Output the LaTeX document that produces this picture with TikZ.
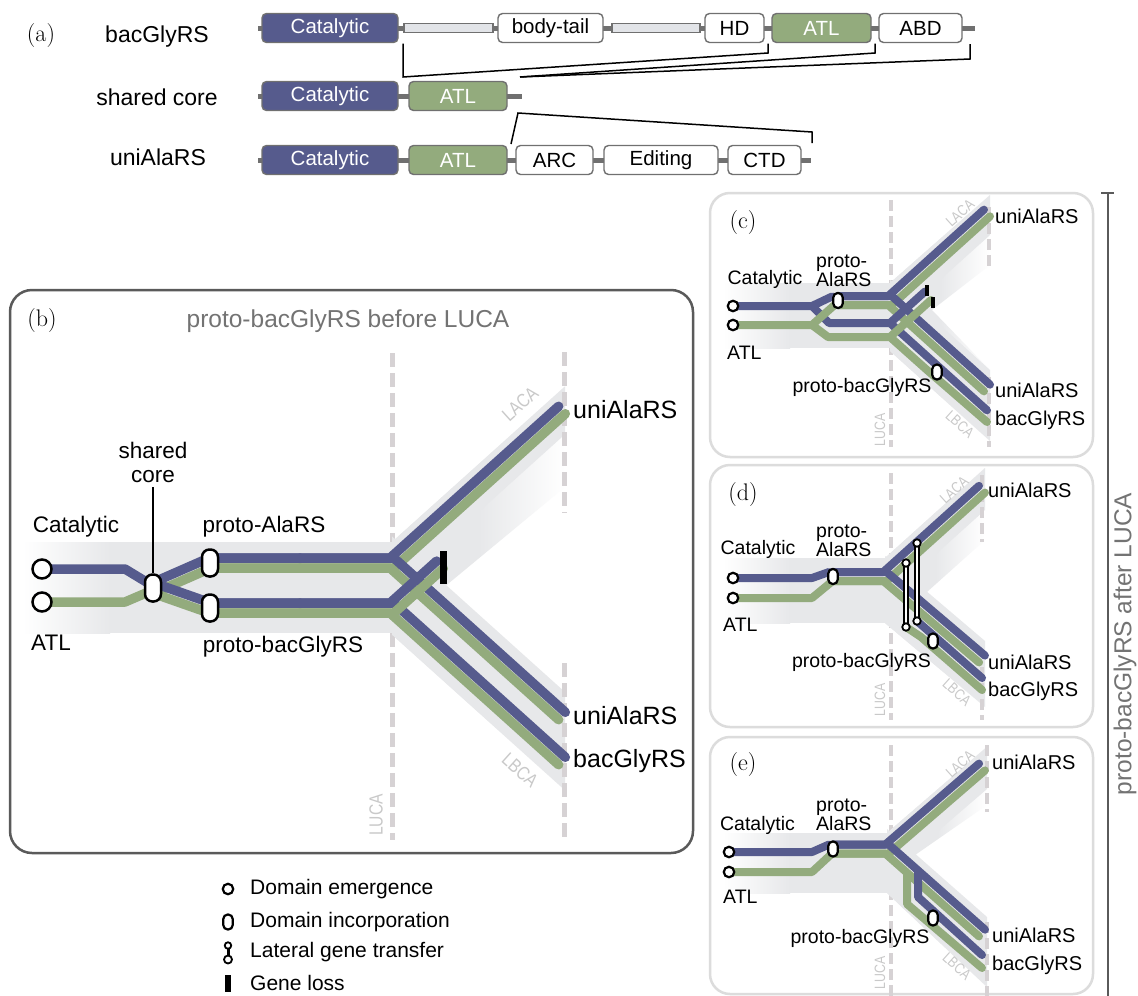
\documentclass[tikz,border=0pt]{standalone}
\usepackage{fontspec}
\setsansfont{Liberation Sans}
\newfontfamily\condsans{Liberation Sans}[FakeStretch=0.82]
\usetikzlibrary{calc}

\definecolor{purp}{HTML}{565B8D}
\definecolor{grn}{HTML}{93AB7D}
\definecolor{band}{HTML}{E7E8EA}
\definecolor{dashgray}{HTML}{D6D2D4}
\definecolor{faint}{HTML}{C9C9C9}
\definecolor{frameB}{HTML}{5A5A5A}
\definecolor{frameS}{HTML}{DCDCDC}
\definecolor{bbone}{HTML}{707070}
\definecolor{linkfill}{HTML}{E2E4E8}
\definecolor{titlegray}{HTML}{737373}

% fan between diverging branches: band colour fading to white on the right
\pgfdeclarehorizontalshading{fanfade}{100bp}{color(0bp)=(band); color(25bp)=(band); color(50bp)=(band); color(75bp)=(white); color(100bp)=(white)}

\newcommand\fsz[2]{\fontsize{#1pt}{#2pt}\selectfont}

% one coloured line running parallel to a two-segment centre line
% #1 style, (#2,#3) -> (#4,#5) -> (#6,#7), #8 perpendicular offset (positive = upper side)
\newcommand\trackoff[8]{%
  \pgfmathsetmacro\olAx{#4-#2}\pgfmathsetmacro\olAy{#5-#3}%
  \pgfmathsetmacro\olAl{veclen(\olAx,\olAy)}%
  \pgfmathsetmacro\olBx{#6-#4}\pgfmathsetmacro\olBy{#7-#5}%
  \pgfmathsetmacro\olBl{veclen(\olBx,\olBy)}%
  \pgfmathsetmacro\olnAx{\olAy/\olAl}\pgfmathsetmacro\olnAy{-\olAx/\olAl}%
  \pgfmathsetmacro\olnBx{\olBy/\olBl}\pgfmathsetmacro\olnBy{-\olBx/\olBl}%
  \pgfmathsetmacro\olden{1+\olnAx*\olnBx+\olnAy*\olnBy}%
  \pgfmathsetmacro\olmx{(\olnAx+\olnBx)/\olden}\pgfmathsetmacro\olmy{(\olnAy+\olnBy)/\olden}%
  \draw[#1] ({#2+(#8)*\olnAx},{#3+(#8)*\olnAy}) -- ({#4+(#8)*\olmx},{#5+(#8)*\olmy}) -- ({#6+(#8)*\olnBx},{#7+(#8)*\olnBy});%
}
% a Catalytic (purple) + ATL (green) gene drawn as a pair along a centre line
\newcommand\trackpair[8]{%
  \trackoff{grn#1}{#3}{#4}{#5}{#6}{#7}{#8}{-#2}%
  \trackoff{pur#1}{#3}{#4}{#5}{#6}{#7}{#8}{#2}%
}

\begin{document}
\begin{tikzpicture}[x=1pt,y=-1pt,
  every node/.style={font=\sffamily,inner sep=0pt},
  purB/.style={draw=purp,line width=9.5pt,line cap=round,line join=round},
  grnB/.style={draw=grn,line width=9.5pt,line cap=round,line join=round},
  purS/.style={draw=purp,line width=8pt,line cap=round,line join=round},
  grnS/.style={draw=grn,line width=8pt,line cap=round,line join=round},
  backbone/.style={draw=bbone,line width=5pt},
  dom/.style={rectangle,rounded corners=4.5pt,draw=bbone,line width=1.4pt,fill=white,
    minimum height=29pt,font=\sffamily\fsz{20.5}{24}},
  catdom/.style={dom,fill=purp,text=white},
  atldom/.style={dom,fill=grn,text=white},
  linker/.style={rectangle,draw=bbone,line width=1.2pt,fill=linkfill,minimum height=9pt},
  bracketline/.style={draw=black,line width=1.5pt},
  rowlab/.style={font=\sffamily\fsz{23}{26}},
  panellab/.style={font=\rmfamily\fsz{24}{26}},
  titlelab/.style={font=\sffamily\fsz{24.5}{28},text=titlegray},
  lblB/.style={font=\sffamily\fsz{22.5}{24}},
  endB/.style={font=\sffamily\fsz{25}{28},anchor=west},
  lblS/.style={font=\sffamily\fsz{19.5}{18}},
  endS/.style={font=\sffamily\fsz{20}{22},anchor=west},
  eraB/.style={font=\condsans\fsz{19}{20},text=faint},
  eraS/.style={font=\condsans\fsz{15}{16},text=faint},
  dashB/.style={draw=dashgray,line width=5pt,dash pattern=on 14pt off 6pt},
  dashS/.style={draw=dashgray,line width=4pt,dash pattern=on 11pt off 5pt},
  incB/.style={rectangle,rounded corners=7.5pt,draw=black,line width=2.5pt,fill=white,minimum width=16pt,minimum height=27pt},
  incS/.style={rectangle,rounded corners=4.5pt,draw=black,line width=2.2pt,fill=white,minimum width=9.5pt,minimum height=15pt},
  emB/.style={circle,draw=black,line width=2.5pt,fill=white,minimum size=19pt},
  emS/.style={circle,draw=black,line width=2.2pt,fill=white,minimum size=10.5pt},
  lossB/.style={rectangle,fill=black,minimum width=7pt,minimum height=33pt},
  lossS/.style={rectangle,fill=black,minimum width=4.5pt,minimum height=11pt},
  lgtline/.style={draw=black,line width=2.3pt,double=white,double distance=1.1pt},
  lgtend/.style={circle,draw=black,line width=1.8pt,fill=white,minimum size=7.5pt},
  frameBig/.style={draw=frameB,line width=2.5pt,rounded corners=22pt},
  frameSmall/.style={draw=frameS,line width=2.5pt,rounded corners=20pt},
  legtext/.style={font=\sffamily\fsz{21}{24},anchor=west}
]
\useasboundingbox (0,0) rectangle (1138,996);
\fill[white] (0,0) rectangle (1138,996);

%% ---------------- (a) domain architectures ----------------
\node[panellab] (pa) at (41,36) {(a)};
\node[rowlab] (r1) at (157,37) {bacGlyRS};
\node[rowlab] (r2) at (157,97) {shared core};
\node[rowlab] (r3) at (158,157) {uniAlaRS};

\draw[backbone] (258,28) -- (975,28);
\draw[backbone] (258,96) -- (522,96);
\draw[backbone] (258,160) -- (811,160);

\node[catdom,minimum width=136pt] (gcat) at (330,28) {Catalytic};
\node[linker,minimum width=89pt] (gl1) at (448.5,28) {};
\node[dom,minimum width=105pt] (gbody) at (550.5,28) {body-tail};
\node[linker,minimum width=88pt] (gl2) at (656,28) {};
\node[dom,minimum width=59pt] (ghd) at (734.5,28) {HD};
\node[atldom,minimum width=99pt] (gatl) at (821.5,28) {ATL};
\node[dom,minimum width=83pt] (gabd) at (920.5,28) {ABD};

\node[catdom,minimum width=136pt] (scat) at (330,96) {Catalytic};
\node[atldom,minimum width=98pt] (satl) at (458,96) {ATL};

\node[catdom,minimum width=136pt] (ucat) at (330,160) {Catalytic};
\node[atldom,minimum width=98pt] (uatl) at (458,160) {ATL};
\node[dom,minimum width=77pt] (uarc) at (554.5,160) {ARC};
\node[dom,minimum width=114pt] (uedit) at (661,160) {Editing};
\node[dom,minimum width=73pt] (uctd) at (764.5,160) {CTD};

% brackets relating the shared core to both architectures
\coordinate (k1) at (403,43.5);
\coordinate (k2) at (403,77);
\coordinate (k3) at (768,53);
\coordinate (k4) at (768,43.5);
\coordinate (k5) at (520,77);
\coordinate (k6) at (875,53);
\coordinate (k7) at (875,43.5);
\coordinate (k8) at (970,59);
\coordinate (k9) at (970,44);
\draw[bracketline] (k1) -- (k2) -- (k3) -- (k4);
\draw[bracketline] (k5) -- (k6) -- (k7);
\draw[bracketline] (k5) -- (k8) -- (k9);
\coordinate (m1) at (511,144);
\coordinate (m2) at (518,113);
\coordinate (m3) at (812,132);
\coordinate (m4) at (812,143);
\draw[bracketline] (m1) -- (m2) -- (m3) -- (m4);

%% ---------------- (b) before LUCA ----------------
\draw[frameBig] (10,290) rectangle (693,853);
\node[panellab] (pb) at (42,321) {(b)};
\node[titlelab] (tb) at (348,321) {proto-bacGlyRS before LUCA};

\draw[dashB] (392,353) -- (392,840);
% shadow band
\shade[left color=white,right color=band] (23,542) rectangle (110,633);
\fill[band] (109.5,542) rectangle (392.5,633);
\shade[shading=fanfade] (392,542) -- (565,387) -- (565,487) -- (443,588) -- (565,692) -- (565,790) -- (392,634.6) -- cycle;
\fill[band] (392,542) -- (565,386.3) -- (565,434.3) -- (392,590) -- cycle;
\fill[band] (392,536.4) -- (565,692.1) -- (565,790.3) -- (392,634.6) -- cycle;
\draw[dashB] (564,352) -- (564,513);
\draw[dashB] (564,663) -- (564,840);

\node[eraB,rotate=42] at (520,404) {LACA};
\node[eraB,rotate=-42] at (520,770) {LBCA};
\node[eraB,rotate=90] at (376,815) {LUCA};

% lineages
\draw[purB] (42,569) -- (125,569) -- (153,586);
\draw[grnB] (42,602) -- (125,602) -- (153,590);
\trackpair{B}{5}{153}{588}{210}{563}{300}{563}
\trackpair{B}{5}{153}{588}{210}{608}{300}{608}
\trackpair{B}{5}{210}{563}{392}{563}{562}{410}
\trackpair{B}{5}{210}{608}{392}{608}{562}{761}
\trackpair{B}{5}{300}{563}{392}{563}{562}{716}
\trackpair{B}{5}{300}{608}{392}{608}{440}{564.8}
\node[lossB] (bloss) at (443.5,567) {};

\node[emB] (bcat) at (42,569) {};
\node[emB] (batl) at (42,602) {};
\node[incB] (bsc) at (153,588) {};
\node[incB] (bpa) at (210,563) {};
\node[incB] (bpg) at (210,608) {};

\node[lblB,align=center] (bscl) at (153,462) {shared\\core};
\draw[line width=2pt] (153,487) -- (bsc.north);
\node[lblB] at (76,527) {Catalytic};
\node[lblB,anchor=west] at (31,643) {ATL};
\node[lblB] at (264,527) {proto-AlaRS};
\node[lblB] at (283,647) {proto-bacGlyRS};
\node[endB] at (573,410) {uniAlaRS};
\node[endB] at (573,716) {uniAlaRS};
\node[endB] at (573,761) {bacGlyRS};

%% ---------------- legend ----------------
\node[emS] (lg1) at (228,889) {};
\node[legtext] at (250,889) {Domain emergence};
\node[incS] (lg2) at (228,922) {};
\node[legtext] at (250,922) {Domain incorporation};
\draw[line width=3pt] (228,946) -- (228,959);
\node[lgtend,minimum size=6.5pt] (lg3a) at (228,945.5) {};
\node[lgtend,minimum size=8pt] (lg3b) at (228,959.5) {};
\node[legtext] at (250,952) {Lateral gene transfer};
\node[lossS,minimum width=6pt,minimum height=17pt] (lg4) at (228,983) {};
\node[legtext] at (250,983) {Gene loss};

%% ---------------- right-hand bracket ----------------
\draw[draw=frameB,line width=2pt] (1101,193) -- (1114,193);
\draw[draw=frameB,line width=2pt] (1107.5,193) -- (1107.5,996);
\node[titlelab,rotate=90] at (1125,644) {proto-bacGlyRS after LUCA};

%% ---------------- (c) ----------------
\draw[frameSmall] (710,193) rectangle (1093,457);
\node[panellab] at (743,223) {(c)};
\draw[dashS] (891,200) -- (891,447);
\shade[left color=white,right color=band] (723,283) rectangle (790,348);
\fill[band] (789.5,283) rectangle (890.5,348);
\shade[shading=fanfade] (890,283) -- (990,195) -- (990,265) -- (932,310) -- (990,370) -- (990,441) -- (890,351) -- cycle;
\fill[band] (890,283) -- (990,195) -- (990,235) -- (890,325) -- cycle;
\fill[band] (890,280) -- (990,370) -- (990,441) -- (890,351) -- cycle;
\draw[dashS] (989,207) -- (989,268);
\draw[dashS] (989,377) -- (989,447);
\node[eraS,rotate=42] at (960,213) {LACA};
\node[eraS,rotate=-42] at (960,424) {LBCA};
\node[eraS,rotate=90] at (880,430) {LUCA};

\draw[purS] (812,306) -- (829,323) -- (890,323) -- (987,410.3);
\draw[grnS] (812,325) -- (828,337) -- (890,337) -- (927,370) -- (987,422);
\draw[purS] (733,306) -- (812,306) -- (832,296.5);
\draw[grnS] (733,325) -- (812,325) -- (834,305.5);
\trackpair{S}{4.5}{838}{300.5}{890}{300.5}{987}{213}
\trackpair{S}{4.5}{838}{300.5}{890}{300.5}{987}{388}
\draw[purS] (890,323) -- (925,291.5);
\draw[grnS] (890,337) -- (931,300);
\node[lossS] at (927,290) {};
\node[lossS] at (933,302) {};

\node[emS] at (733,306) {};
\node[emS] at (733,325) {};
\node[incS] (cpa) at (838,300.5) {};
\node[incS] (cpg) at (937,372) {};

\node[lblS] at (765,279) {Catalytic};
\node[lblS,anchor=west,align=left] at (816,271) {proto-\\AlaRS};
\node[lblS,anchor=west] at (727,353) {ATL};
\node[lblS] at (862,387) {proto-bacGlyRS};
\node[endS] at (995,216) {uniAlaRS};
\node[endS] at (995,390) {uniAlaRS};
\node[endS] at (995,420) {bacGlyRS};

%% ---------------- (d) ----------------
\draw[frameSmall] (710,465) rectangle (1093,727);
\node[panellab] at (743,495) {(d)};
\draw[dashS] (891,473) -- (891,720);
\shade[left color=white,right color=band] (723,558) rectangle (790,623);
\fill[band] (789.5,558) rectangle (885.5,623);
\shade[shading=fanfade] (885,558) -- (985,468) -- (985,540) -- (918,600) -- (985,641) -- (985,707) -- (885,623) -- cycle;
\fill[band] (885,558) -- (985,468) -- (985,510) -- (885,600) -- cycle;
\fill[band] (885,556) -- (985,641) -- (985,707) -- (885,623) -- cycle;
\draw[dashS] (982,475) -- (982,542);
\draw[dashS] (982,667) -- (982,720);
\node[eraS,rotate=42] at (954,490) {LACA};
\node[eraS,rotate=-42] at (957,692) {LBCA};
\node[eraS,rotate=90] at (880,700) {LUCA};

\draw[purS] (733,578) -- (812,578) -- (829,572);
\draw[grnS] (733,598) -- (812,598) -- (832,581.5);
\trackpair{S}{4.5}{833}{576.5}{885}{576.5}{982}{489.2}
\trackpair{S}{4.5}{833}{576.5}{885}{576.5}{982}{659}
\draw[purS] (917,621) -- (982,678);
\draw[grnS] (906,627) -- (921,637) -- (982,690);
\draw[lgtline] (906,563) -- (906,627);
\draw[lgtline] (917,543) -- (917,621);
\node[lgtend] at (906,563) {};
\node[lgtend] at (906,627) {};
\node[lgtend] at (917,543) {};
\node[lgtend] at (917,621) {};

\node[emS] at (733,578) {};
\node[emS] at (733,598) {};
\node[incS] (dpa) at (833,576.5) {};
\node[incS] (dpg) at (933,641) {};

\node[lblS] at (758,549) {Catalytic};
\node[lblS,anchor=west,align=left] at (816,541) {proto-\\AlaRS};
\node[lblS,anchor=west] at (723,625) {ATL};
\node[lblS] at (861.5,662) {proto-bacGlyRS};
\node[endS] at (988,490) {uniAlaRS};
\node[endS] at (988,662) {uniAlaRS};
\node[endS] at (988,691) {bacGlyRS};

%% ---------------- (e) ----------------
\draw[frameSmall] (710,737) rectangle (1093,994);
\node[panellab] at (743,765) {(e)};
\draw[dashS] (891,745) -- (891,996);
\shade[left color=white,right color=band] (723,833) rectangle (790,893);
\fill[band] (789.5,833) rectangle (887.5,893);
\shade[shading=fanfade] (887,833) -- (987,746.7) -- (987,805) -- (905,862) -- (987,917) -- (987,987) -- (887,893) -- cycle;
\fill[band] (887,833) -- (987,746.7) -- (987,789) -- (887,875) -- cycle;
\fill[band] (887,829) -- (987,917) -- (987,987) -- (887,893) -- cycle;
\draw[dashS] (987,745) -- (987,812);
\draw[dashS] (987,922) -- (987,996);
\node[eraS,rotate=42] at (960,764) {LACA};
\node[eraS,rotate=-42] at (957,966) {LBCA};
\node[eraS,rotate=90] at (880,973) {LUCA};

\draw[purS] (729,852) -- (812,852) -- (829,844.5);
\draw[grnS] (729,872) -- (812,872) -- (832,853.5);
\trackpair{S}{4.5}{833}{849}{887}{849}{982}{767}
\trackpair{S}{4.5}{833}{849}{887}{849}{982}{933}
\draw[grnS] (907,875) -- (907,904) -- (982,968);
\draw[purS] (918,872) -- (918,897) -- (982,955);

\node[emS] at (729,852) {};
\node[emS] at (729,872) {};
\node[incS] (epa) at (833,849) {};
\node[incS] (epg) at (933,918) {};

\node[lblS] at (757.5,825) {Catalytic};
\node[lblS,anchor=west,align=left] at (816,815) {proto-\\AlaRS};
\node[lblS,anchor=west] at (723,897) {ATL};
\node[lblS] at (860,938) {proto-bacGlyRS};
\node[endS] at (992,762) {uniAlaRS};
\node[endS] at (992,935) {uniAlaRS};
\node[endS] at (992,965) {bacGlyRS};
\end{tikzpicture}
\end{document}
